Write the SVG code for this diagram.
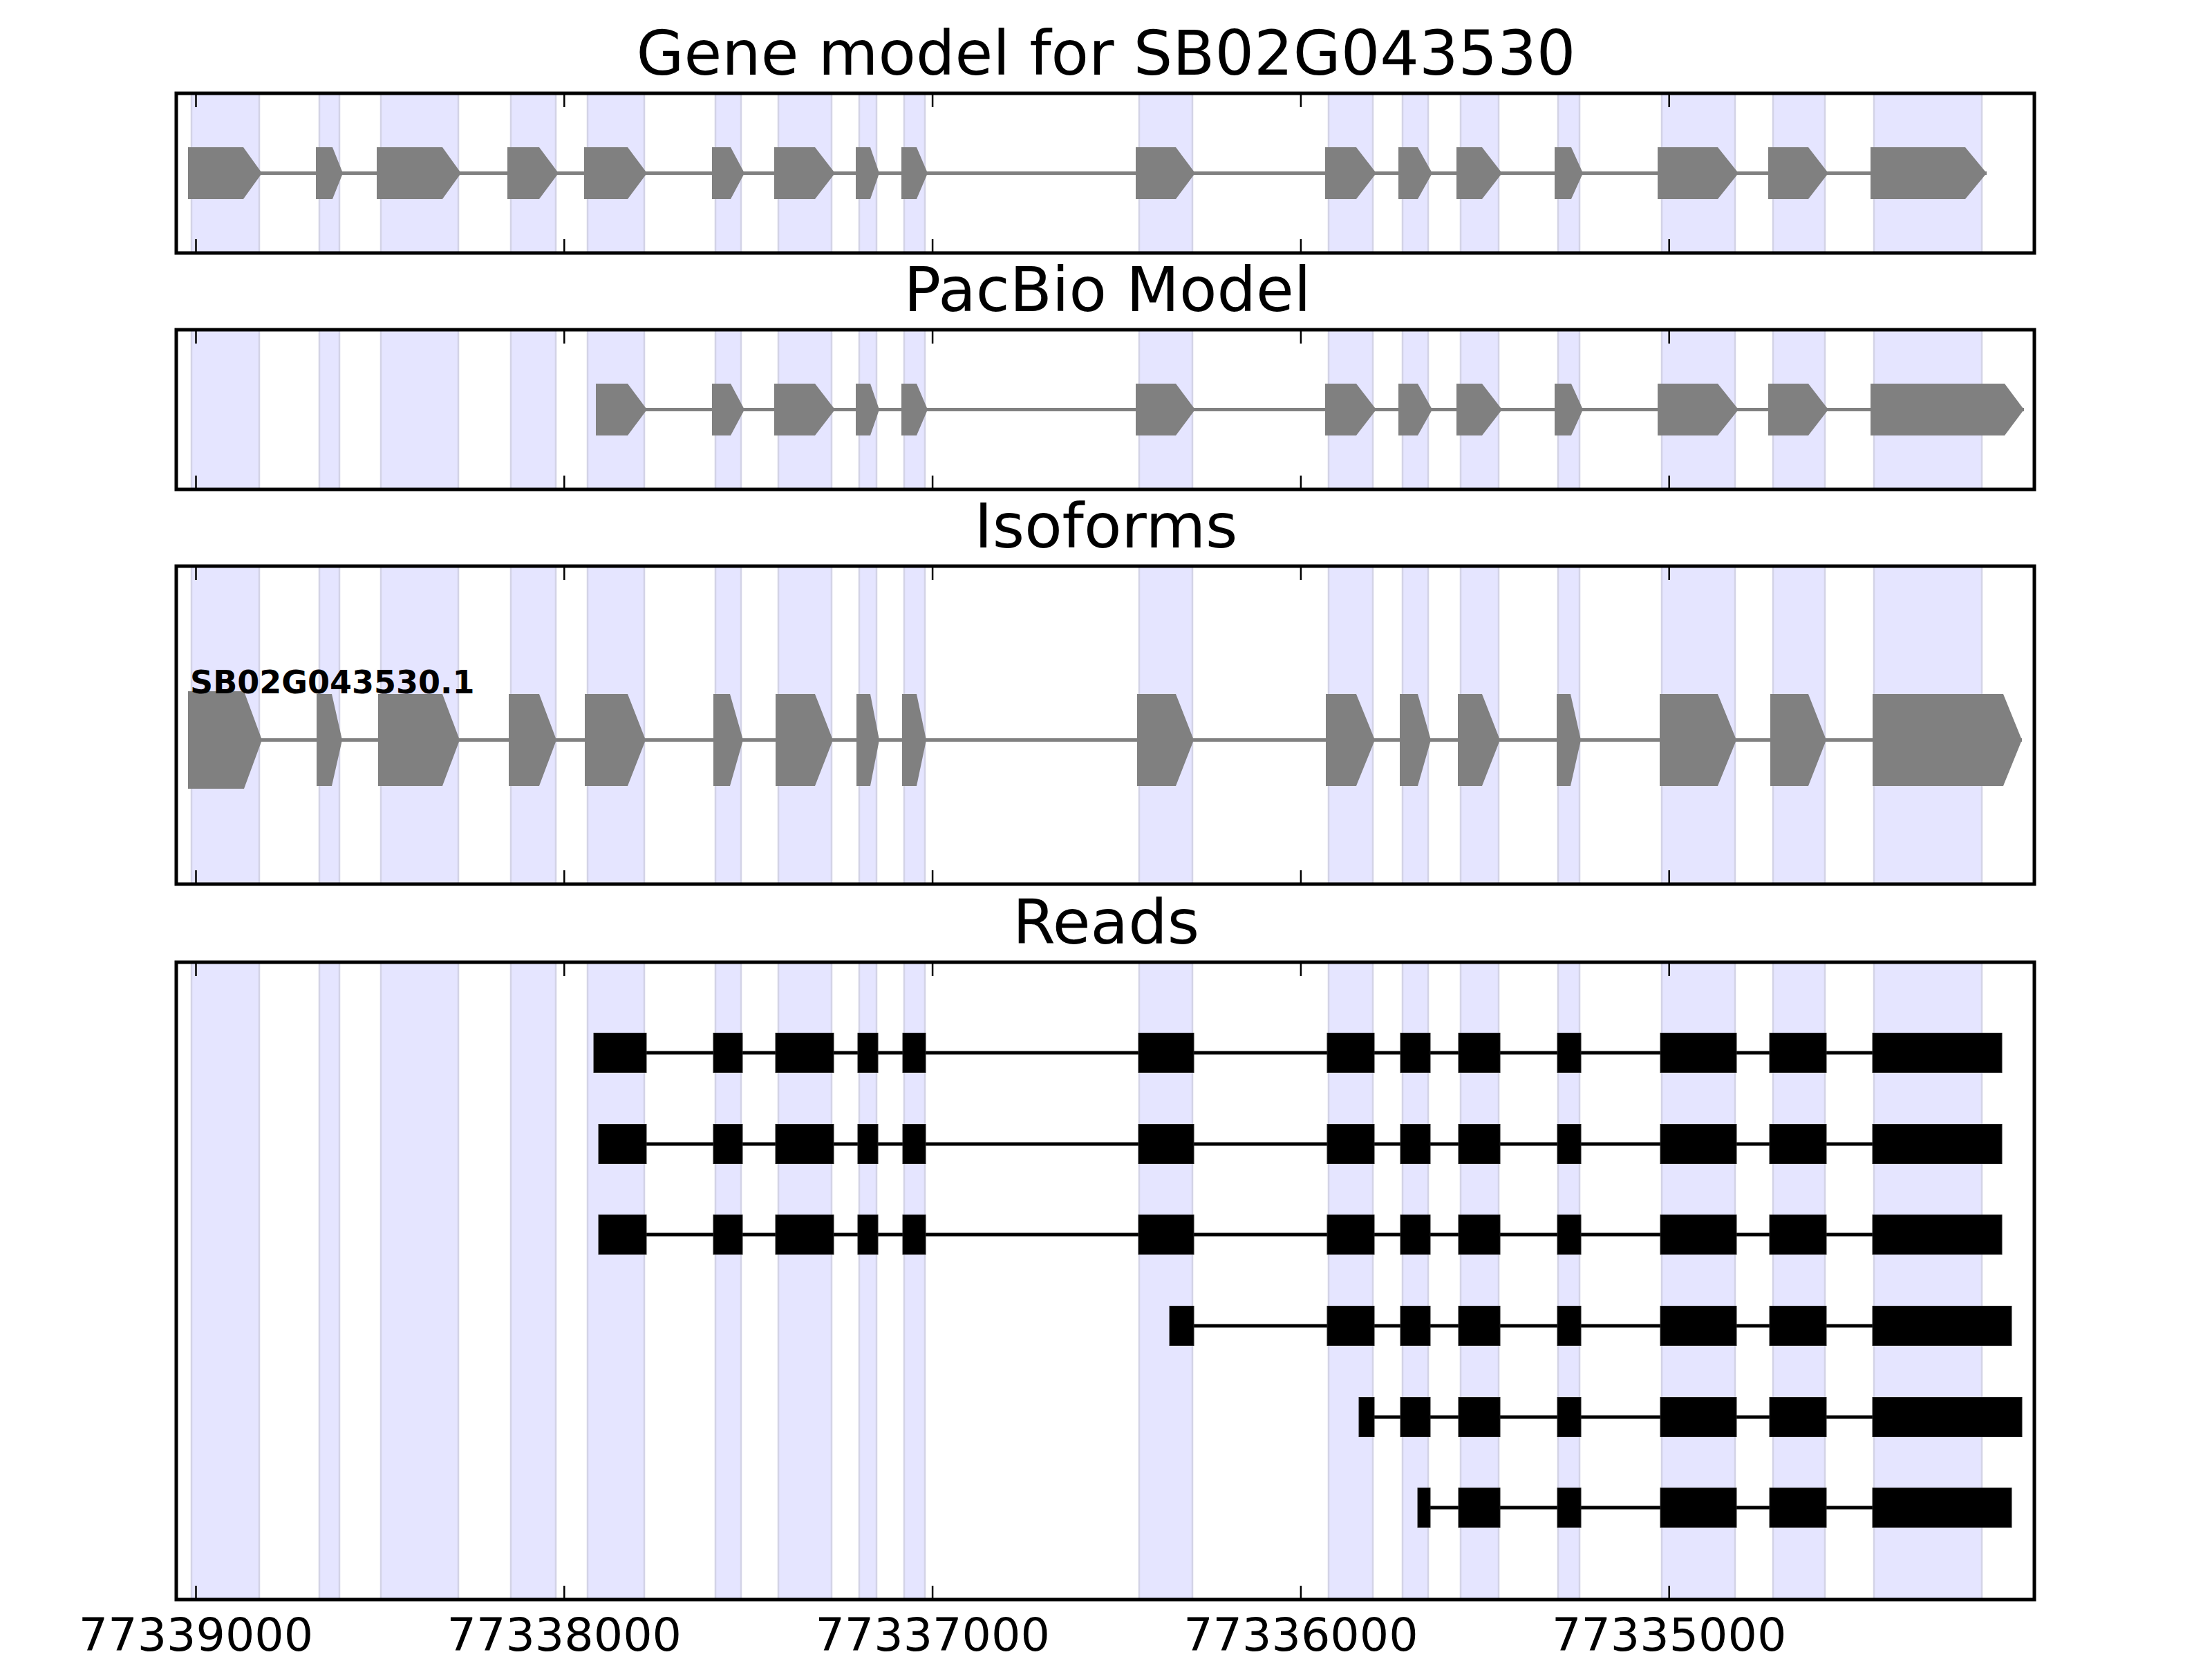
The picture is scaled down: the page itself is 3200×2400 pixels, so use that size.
<svg xmlns="http://www.w3.org/2000/svg" xmlns:xlink="http://www.w3.org/1999/xlink" width="3200" height="2400" viewBox="0 0 3200 2400">
<style>
.band{fill:#E5E5FF;stroke:#D3D3E6;stroke-width:2.5}
.frame{fill:none;stroke:#000;stroke-width:5}
.tick{stroke:#000;stroke-width:2.5}
.gexon{fill:#808080}
.gintron{stroke:#808080;stroke-width:5;fill:none}
.rexon{fill:#000;stroke:#222;stroke-width:1}
.rintron{stroke:#000;stroke-width:5;fill:none}
.title{font-family:"DejaVu Sans",sans-serif;font-size:89px;text-anchor:middle;fill:#000}
.tlabel{font-family:"DejaVu Sans",sans-serif;font-size:66.7px;text-anchor:middle;fill:#000}
.iso{font-family:"DejaVu Sans",sans-serif;font-size:46px;font-weight:bold;fill:#000}
</style>
<defs>
<g id="bands">
<rect class="band" x="277" y="0" width="98" height="2400"/>
<rect class="band" x="462" y="0" width="29" height="2400"/>
<rect class="band" x="551" y="0" width="112" height="2400"/>
<rect class="band" x="739" y="0" width="65" height="2400"/>
<rect class="band" x="850" y="0" width="82" height="2400"/>
<rect class="band" x="1035" y="0" width="37" height="2400"/>
<rect class="band" x="1126" y="0" width="77" height="2400"/>
<rect class="band" x="1243" y="0" width="25" height="2400"/>
<rect class="band" x="1308" y="0" width="30" height="2400"/>
<rect class="band" x="1648" y="0" width="77" height="2400"/>
<rect class="band" x="1922" y="0" width="64" height="2400"/>
<rect class="band" x="2029" y="0" width="37" height="2400"/>
<rect class="band" x="2113" y="0" width="55" height="2400"/>
<rect class="band" x="2254" y="0" width="31" height="2400"/>
<rect class="band" x="2404" y="0" width="106" height="2400"/>
<rect class="band" x="2565" y="0" width="75" height="2400"/>
<rect class="band" x="2711" y="0" width="156" height="2400"/>
</g>
<g id="ticksTop">
<line class="tick" x1="283.5" y1="0" x2="283.5" y2="20"/>
<line class="tick" x1="816.3" y1="0" x2="816.3" y2="20"/>
<line class="tick" x1="1349.1" y1="0" x2="1349.1" y2="20"/>
<line class="tick" x1="1881.9" y1="0" x2="1881.9" y2="20"/>
<line class="tick" x1="2414.7" y1="0" x2="2414.7" y2="20"/>
</g>
<g id="ticksBottom">
<line class="tick" x1="283.5" y1="-20" x2="283.5" y2="0"/>
<line class="tick" x1="816.3" y1="-20" x2="816.3" y2="0"/>
<line class="tick" x1="1349.1" y1="-20" x2="1349.1" y2="0"/>
<line class="tick" x1="1881.9" y1="-20" x2="1881.9" y2="0"/>
<line class="tick" x1="2414.7" y1="-20" x2="2414.7" y2="0"/>
</g>
<clipPath id="c1"><rect x="255" y="135" width="2688" height="231"/></clipPath>
<clipPath id="c2"><rect x="255" y="477" width="2688" height="231"/></clipPath>
<clipPath id="c3"><rect x="255" y="819" width="2688" height="460"/></clipPath>
<clipPath id="c4"><rect x="255" y="1392" width="2688" height="922"/></clipPath>
</defs>
<rect x="0" y="0" width="3200" height="2400" fill="#fff"/>

<!-- Panel 1: Gene model -->
<g id="panel-gene-model">
<text class="title" x="1600" y="108">Gene model for SB02G043530</text>
<use xlink:href="#bands" clip-path="url(#c1)"/>
<g id="gene-model-introns"><line class="gintron" x1="272" y1="250.5" x2="2874" y2="250.5"/></g>
<g id="gene-model-exons" class="gexon">
<polygon points="272,213 352,213 379,250.5 352,288 272,288"/>
<polygon points="457,213 481,213 496,250.5 481,288 457,288"/>
<polygon points="545,213 640,213 667,250.5 640,288 545,288"/>
<polygon points="734,213 780,213 808,250.5 780,288 734,288"/>
<polygon points="845,213 908,213 936,250.5 908,288 845,288"/>
<polygon points="1030,213 1057,213 1077,250.5 1057,288 1030,288"/>
<polygon points="1120,213 1179,213 1208,250.5 1179,288 1120,288"/>
<polygon points="1238,213 1259,213 1272,250.5 1259,288 1238,288"/>
<polygon points="1304,213 1326,213 1342,250.5 1326,288 1304,288"/>
<polygon points="1643,213 1701,213 1729,250.5 1701,288 1643,288"/>
<polygon points="1917,213 1962,213 1991,250.5 1962,288 1917,288"/>
<polygon points="2023,213 2051,213 2072,250.5 2051,288 2023,288"/>
<polygon points="2107,213 2144,213 2173,250.5 2144,288 2107,288"/>
<polygon points="2249,213 2273,213 2290,250.5 2273,288 2249,288"/>
<polygon points="2398,213 2485,213 2515,250.5 2485,288 2398,288"/>
<polygon points="2558,213 2616,213 2645,250.5 2616,288 2558,288"/>
<polygon points="2706,213 2843,213 2874,250.5 2843,288 2706,288"/>
</g>
<rect class="frame" x="255" y="135" width="2688" height="231"/>
<use xlink:href="#ticksTop" y="135"/>
<use xlink:href="#ticksBottom" y="366"/>
</g>

<!-- Panel 2: PacBio Model -->
<g id="panel-pacbio">
<text class="title" x="1602" y="450">PacBio Model</text>
<use xlink:href="#bands" clip-path="url(#c2)"/>
<g id="pacbio-introns"><line class="gintron" x1="862" y1="592.5" x2="2928" y2="592.5"/></g>
<g id="pacbio-exons" class="gexon">
<polygon points="862,555 908,555 936,592.5 908,630 862,630"/>
<polygon points="1030,555 1057,555 1077,592.5 1057,630 1030,630"/>
<polygon points="1120,555 1179,555 1208,592.5 1179,630 1120,630"/>
<polygon points="1238,555 1259,555 1272,592.5 1259,630 1238,630"/>
<polygon points="1304,555 1326,555 1342,592.5 1326,630 1304,630"/>
<polygon points="1643,555 1701,555 1729,592.5 1701,630 1643,630"/>
<polygon points="1917,555 1962,555 1991,592.5 1962,630 1917,630"/>
<polygon points="2023,555 2051,555 2072,592.5 2051,630 2023,630"/>
<polygon points="2107,555 2144,555 2173,592.5 2144,630 2107,630"/>
<polygon points="2249,555 2273,555 2290,592.5 2273,630 2249,630"/>
<polygon points="2398,555 2485,555 2515,592.5 2485,630 2398,630"/>
<polygon points="2558,555 2616,555 2645,592.5 2616,630 2558,630"/>
<polygon points="2706,555 2900,555 2928,592.5 2900,630 2706,630"/>
</g>
<rect class="frame" x="255" y="477" width="2688" height="231"/>
<use xlink:href="#ticksTop" y="477"/>
<use xlink:href="#ticksBottom" y="708"/>
</g>

<!-- Panel 3: Isoforms -->
<g id="panel-isoforms">
<text class="title" x="1600" y="792">Isoforms</text>
<use xlink:href="#bands" clip-path="url(#c3)"/>
<g id="isoform-introns"><line class="gintron" x1="272" y1="1070.5" x2="2925" y2="1070.5"/></g>
<g id="isoform-SB02G043530-1" class="gexon">
<polygon points="272,1000 353,1000 379,1070.5 353,1141 272,1141"/>
<polygon points="458,1004 480,1004 495,1070.5 480,1137 458,1137"/>
<polygon points="547,1004 640,1004 665,1070.5 640,1137 547,1137"/>
<polygon points="736,1004 780,1004 805,1070.5 780,1137 736,1137"/>
<polygon points="846,1004 908,1004 934,1070.5 908,1137 846,1137"/>
<polygon points="1032,1004 1056,1004 1075,1070.5 1056,1137 1032,1137"/>
<polygon points="1122,1004 1179,1004 1205,1070.5 1179,1137 1122,1137"/>
<polygon points="1239,1004 1259,1004 1272,1070.5 1259,1137 1239,1137"/>
<polygon points="1305,1004 1326,1004 1340,1070.5 1326,1137 1305,1137"/>
<polygon points="1645,1004 1701,1004 1727,1070.5 1701,1137 1645,1137"/>
<polygon points="1918,1004 1962,1004 1989,1070.5 1962,1137 1918,1137"/>
<polygon points="2025,1004 2051,1004 2070,1070.5 2051,1137 2025,1137"/>
<polygon points="2109,1004 2144,1004 2170,1070.5 2144,1137 2109,1137"/>
<polygon points="2252,1004 2272,1004 2287,1070.5 2272,1137 2252,1137"/>
<polygon points="2401,1004 2485,1004 2512,1070.5 2485,1137 2401,1137"/>
<polygon points="2561,1004 2616,1004 2642,1070.5 2616,1137 2561,1137"/>
<polygon points="2709,1004 2898,1004 2925,1070.5 2898,1137 2709,1137"/>
<text class="iso" x="275" y="1003">SB02G043530.1</text>
</g>
<rect class="frame" x="255" y="819" width="2688" height="460"/>
<use xlink:href="#ticksTop" y="819"/>
<use xlink:href="#ticksBottom" y="1279"/>
</g>

<!-- Panel 4: Reads -->
<g id="panel-reads">
<text class="title" x="1600" y="1365">Reads</text>
<use xlink:href="#bands" clip-path="url(#c4)"/>
<g id="read-introns">
<line class="rintron" x1="859" y1="1523" x2="2896" y2="1523"/>
<line class="rintron" x1="866" y1="1655" x2="2896" y2="1655"/>
<line class="rintron" x1="866" y1="1786" x2="2896" y2="1786"/>
<line class="rintron" x1="1692" y1="1918" x2="2910" y2="1918"/>
<line class="rintron" x1="1966" y1="2050" x2="2925" y2="2050"/>
<line class="rintron" x1="2051" y1="2181" x2="2910" y2="2181"/>
</g>
<g id="read-1" class="rexon">
<rect x="859" y="1494.5" width="76" height="57"/>
<rect x="1032" y="1494.5" width="42" height="57"/>
<rect x="1122" y="1494.5" width="84" height="57"/>
<rect x="1241" y="1494.5" width="29" height="57"/>
<rect x="1306" y="1494.5" width="33" height="57"/>
<rect x="1647" y="1494.5" width="80" height="57"/>
<rect x="1920" y="1494.5" width="68" height="57"/>
<rect x="2026" y="1494.5" width="43" height="57"/>
<rect x="2110" y="1494.5" width="60" height="57"/>
<rect x="2253" y="1494.5" width="34" height="57"/>
<rect x="2402" y="1494.5" width="110" height="57"/>
<rect x="2560" y="1494.5" width="82" height="57"/>
<rect x="2709" y="1494.5" width="187" height="57"/>
</g>
<g id="read-2" class="rexon">
<rect x="866" y="1626.5" width="69" height="57"/>
<rect x="1032" y="1626.5" width="42" height="57"/>
<rect x="1122" y="1626.5" width="84" height="57"/>
<rect x="1241" y="1626.5" width="29" height="57"/>
<rect x="1306" y="1626.5" width="33" height="57"/>
<rect x="1647" y="1626.5" width="80" height="57"/>
<rect x="1920" y="1626.5" width="68" height="57"/>
<rect x="2026" y="1626.5" width="43" height="57"/>
<rect x="2110" y="1626.5" width="60" height="57"/>
<rect x="2253" y="1626.5" width="34" height="57"/>
<rect x="2402" y="1626.5" width="110" height="57"/>
<rect x="2560" y="1626.5" width="82" height="57"/>
<rect x="2709" y="1626.5" width="187" height="57"/>
</g>
<g id="read-3" class="rexon">
<rect x="866" y="1757.5" width="69" height="57"/>
<rect x="1032" y="1757.5" width="42" height="57"/>
<rect x="1122" y="1757.5" width="84" height="57"/>
<rect x="1241" y="1757.5" width="29" height="57"/>
<rect x="1306" y="1757.5" width="33" height="57"/>
<rect x="1647" y="1757.5" width="80" height="57"/>
<rect x="1920" y="1757.5" width="68" height="57"/>
<rect x="2026" y="1757.5" width="43" height="57"/>
<rect x="2110" y="1757.5" width="60" height="57"/>
<rect x="2253" y="1757.5" width="34" height="57"/>
<rect x="2402" y="1757.5" width="110" height="57"/>
<rect x="2560" y="1757.5" width="82" height="57"/>
<rect x="2709" y="1757.5" width="187" height="57"/>
</g>
<g id="read-4" class="rexon">
<rect x="1692" y="1889.5" width="35" height="57"/>
<rect x="1920" y="1889.5" width="68" height="57"/>
<rect x="2026" y="1889.5" width="43" height="57"/>
<rect x="2110" y="1889.5" width="60" height="57"/>
<rect x="2253" y="1889.5" width="34" height="57"/>
<rect x="2402" y="1889.5" width="110" height="57"/>
<rect x="2560" y="1889.5" width="82" height="57"/>
<rect x="2709" y="1889.5" width="201" height="57"/>
</g>
<g id="read-5" class="rexon">
<rect x="1966" y="2021.5" width="22" height="57"/>
<rect x="2026" y="2021.5" width="43" height="57"/>
<rect x="2110" y="2021.5" width="60" height="57"/>
<rect x="2253" y="2021.5" width="34" height="57"/>
<rect x="2402" y="2021.5" width="110" height="57"/>
<rect x="2560" y="2021.5" width="82" height="57"/>
<rect x="2709" y="2021.5" width="216" height="57"/>
</g>
<g id="read-6" class="rexon">
<rect x="2051" y="2152.5" width="18" height="57"/>
<rect x="2110" y="2152.5" width="60" height="57"/>
<rect x="2253" y="2152.5" width="34" height="57"/>
<rect x="2402" y="2152.5" width="110" height="57"/>
<rect x="2560" y="2152.5" width="82" height="57"/>
<rect x="2709" y="2152.5" width="201" height="57"/>
</g>
<rect class="frame" x="255" y="1392" width="2688" height="922"/>
<use xlink:href="#ticksTop" y="1392"/>
<use xlink:href="#ticksBottom" y="2314"/>
</g>

<g id="x-axis-labels">
<text class="tlabel" x="283.5" y="2388">77339000</text>
<text class="tlabel" x="816.3" y="2388">77338000</text>
<text class="tlabel" x="1349.1" y="2388">77337000</text>
<text class="tlabel" x="1881.9" y="2388">77336000</text>
<text class="tlabel" x="2414.7" y="2388">77335000</text>
</g>
</svg>
